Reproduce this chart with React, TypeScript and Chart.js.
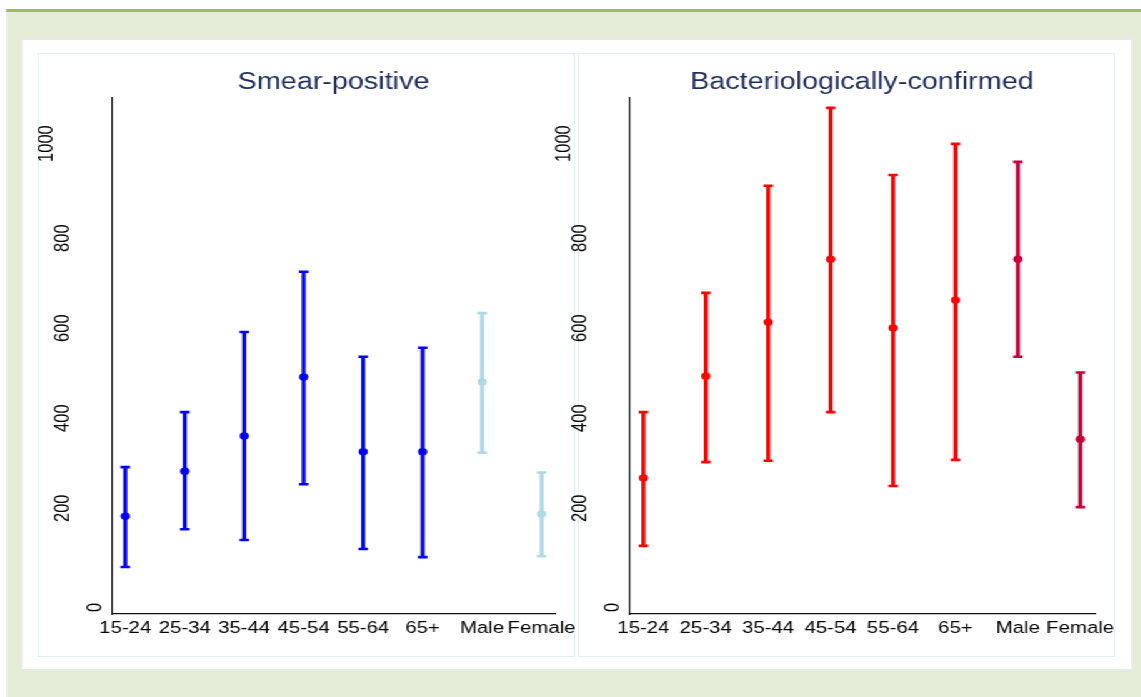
import React, { useEffect, useRef } from 'react';
import { Chart, registerables } from 'chart.js';

Chart.register(...registerables);

const categories = ['15-24', '25-34', '35-44', '45-54', '55-64', '65+', 'Male', 'Female'];

const smearPoint = [213, 313, 391, 522, 356, 356, 511, 218];
const smearLower = [100, 184, 160, 284, 140, 122, 354, 124];
const smearUpper = [322, 444, 622, 756, 567, 587, 664, 310];

const bactPoint = [298, 524, 644, 784, 631, 693, 784, 384];
const bactLower = [147, 333, 336, 444, 280, 338, 567, 233];
const bactUpper = [444, 709, 947, 1120, 971, 1040, 1000, 532];

const smearColors = ['#0000ff', '#0000ff', '#0000ff', '#0000ff', '#0000ff', '#0000ff', '#add8e6', '#add8e6'];
const bactColors = ['#ff0000', '#ff0000', '#ff0000', '#ff0000', '#ff0000', '#ff0000', '#c8003a', '#c8003a'];

const yTickValues = [0, 200, 400, 600, 800, 1000];

const FONT = '"Liberation Sans", Arial, Helvetica, sans-serif';
const STRETCH = 1.25;

type PanelProps = {
  title: string;
  points: number[];
  lowers: number[];
  uppers: number[];
  colors: string[];
  left: number;
  canvasWidth: number;
  yAxisWidth: number;
  padRight: number;
};

function ErrorPanel({ title, points, lowers, uppers, colors, left, canvasWidth, yAxisWidth, padRight }: PanelProps) {
  const ref = useRef<HTMLCanvasElement | null>(null);

  useEffect(() => {
    if (!ref.current) return;

    const errorBars = {
      id: 'errorBars',
      beforeDatasetsDraw(chart: any) {
        const ctx = chart.ctx;
        const xs = chart.scales.x;
        const ys = chart.scales.y;
        ctx.save();
        ctx.lineCap = 'butt';
        for (let i = 0; i < categories.length; i++) {
          const x = xs.getPixelForValue(i + 1);
          const yl = ys.getPixelForValue(lowers[i]);
          const yu = ys.getPixelForValue(uppers[i]);
          ctx.strokeStyle = colors[i];
          ctx.lineWidth = 3.2;
          ctx.beginPath();
          ctx.moveTo(x, yl);
          ctx.lineTo(x, yu);
          ctx.stroke();
          ctx.lineWidth = 2.6;
          ctx.beginPath();
          ctx.moveTo(x - 3.8, yl);
          ctx.lineTo(x + 3.8, yl);
          ctx.moveTo(x - 3.8, yu);
          ctx.lineTo(x + 3.8, yu);
          ctx.stroke();
        }
        ctx.restore();
      },
    };

    const yLabels = {
      id: 'yLabels',
      afterDraw(chart: any) {
        const ctx = chart.ctx;
        const ys = chart.scales.y;
        const axisX = chart.chartArea.left;
        ctx.save();
        ctx.fillStyle = '#000';
        ctx.font = `16.5px ${FONT}`;
        ctx.textAlign = 'left';
        ctx.textBaseline = 'alphabetic';
        for (const v of yTickValues) {
          const label = String(v);
          const y = ys.getPixelForValue(v);
          const x = axisX - (8 + (label.length - 1) * 13.2);
          ctx.save();
          ctx.translate(x, y);
          ctx.rotate(-Math.PI / 2);
          ctx.fillText(label, 0, 0);
          ctx.restore();
        }
        ctx.restore();
      },
    };

    const chart = new Chart(ref.current, {
      type: 'scatter',
      data: {
        datasets: [
          {
            data: points.map((p, i) => ({ x: i + 1, y: p })),
            pointRadius: 3.7,
            pointBackgroundColor: colors,
            pointBorderColor: colors,
            pointBorderWidth: 0,
            pointHoverRadius: 3.7,
          },
        ],
      },
      options: {
        responsive: false,
        animation: false,
        maintainAspectRatio: false,
        layout: { padding: { left: 0, right: padRight, top: 0, bottom: 0 } },
        plugins: {
          legend: { display: false },
          tooltip: { enabled: false },
          title: {
            display: true,
            text: title,
            fullSize: false,
            color: '#1e2d5b',
            font: { family: FONT, size: 23, weight: 'normal' },
            padding: { top: 16, bottom: 1.4 },
          },
        },
        scales: {
          x: {
            type: 'linear',
            min: 0.77,
            max: 8.235,
            grid: { display: false, drawTicks: false },
            border: { display: true, color: '#111', width: 1.2 },
            ticks: {
              autoSkip: false,
              maxRotation: 0,
              minRotation: 0,
              padding: 5,
              color: '#000',
              font: { family: FONT, size: 16.3 },
              callback: (v: any) => categories[Math.round(Number(v)) - 1] ?? '',
            },
            afterBuildTicks: (s: any) => {
              s.ticks = categories.map((_, i) => ({ value: i + 1 }));
            },
            afterFit: (s: any) => {
              s.height = 43;
              s.paddingLeft = 0;
              s.paddingRight = 0;
            },
          },
          y: {
            type: 'linear',
            min: -4.4,
            max: 1142,
            grid: { display: false, drawTicks: false },
            border: { display: true, color: '#111', width: 1.2 },
            ticks: { display: false },
            afterFit: (s: any) => {
              s.width = yAxisWidth;
              s.paddingTop = 0;
              s.paddingBottom = 0;
            },
          },
        },
      } as any,
      plugins: [errorBars, yLabels],
    });

    return () => chart.destroy();
  }, []);

  return (
    <canvas
      ref={ref}
      width={canvasWidth}
      height={604}
      style={{ position: 'absolute', left, top: 53 }}
    />
  );
}

export default function App() {
  const W = 1141 / STRETCH;
  return (
    <div
      style={{
        position: 'absolute',
        left: 0,
        top: 0,
        width: W,
        height: 697,
        overflow: 'hidden',
        background: '#ffffff',
        transform: `scaleX(${STRETCH})`,
        transformOrigin: '0 0',
      }}
    >
      <div style={{ position: 'absolute', left: 4.8, top: 12, width: W - 4.8, height: 685, background: '#e4ecd7' }} />
      <div style={{ position: 'absolute', left: 4.8, top: 9, width: W - 4.8, height: 3, background: '#9bbb59' }} />
      <div
        style={{
          position: 'absolute',
          left: 17.4,
          top: 39,
          width: 889,
          height: 631,
          background: '#ffffff',
          boxSizing: 'border-box',
          border: '1px solid #e3ebef',
        }}
      />
      <div
        style={{
          position: 'absolute',
          left: 30.4,
          top: 53,
          width: 429.6,
          height: 604,
          boxSizing: 'border-box',
          border: '1px solid #e4edf0',
        }}
      />
      <div
        style={{
          position: 'absolute',
          left: 462.4,
          top: 53,
          width: 429.6,
          height: 604,
          boxSizing: 'border-box',
          border: '1px solid #e4edf0',
        }}
      />
      <ErrorPanel
        title="Smear-positive"
        points={smearPoint}
        lowers={smearLower}
        uppers={smearUpper}
        colors={smearColors}
        left={30.4}
        canvasWidth={430}
        yAxisWidth={59.2}
        padRight={15.6}
      />
      <ErrorPanel
        title="Bacteriologically-confirmed"
        points={bactPoint}
        lowers={bactLower}
        uppers={bactUpper}
        colors={bactColors}
        left={420}
        canvasWidth={473}
        yAxisWidth={83.2}
        padRight={17}
      />
    </div>
  );
}
